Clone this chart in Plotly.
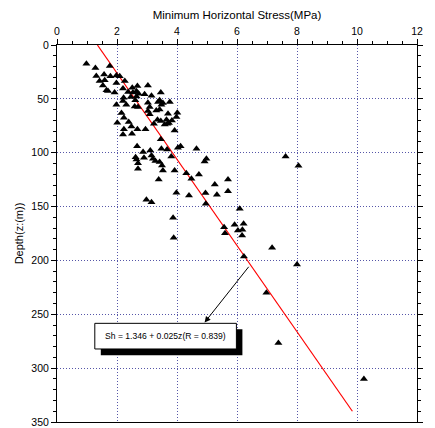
import plotly.graph_objects as go

# Measured points: minimum horizontal stress (MPa) and depth (m)
stress = [0.98, 1.28, 1.76, 1.31, 1.57, 1.78, 1.98, 2.09, 1.42, 1.59,
          1.98, 2.26, 1.53, 1.65, 1.70, 1.92, 2.20, 2.37, 2.51, 2.68,
          3.03, 2.53, 2.65, 2.72, 2.92, 3.15, 3.46, 2.46, 2.65, 2.61,
          2.22, 1.98, 2.20, 2.31, 2.59, 2.70, 3.03, 3.09, 3.37, 3.42,
          3.53, 3.48, 3.76, 3.42, 3.31, 3.03, 2.15, 3.70, 4.01, 2.23,
          2.01, 3.35, 3.46, 3.65, 3.83, 3.98, 3.68, 3.73, 2.39, 2.48,
          2.23, 2.68, 2.95, 3.92, 3.23, 3.59, 3.09, 2.20, 2.50, 3.46,
          2.67, 2.87, 3.11, 3.48, 3.67, 4.03, 4.12, 4.65, 2.62, 2.65,
          2.90, 3.15, 3.20, 3.28, 3.42, 3.50, 3.53, 2.70, 2.70, 3.81,
          3.92, 3.39, 4.31, 4.48, 4.73, 4.98, 4.92, 5.26, 5.70, 5.70,
          5.33, 4.95, 4.40, 3.98, 2.98, 3.15, 4.96, 6.09, 3.87, 3.89,
          5.57, 5.60, 5.92, 6.22, 6.03, 6.18, 6.17, 6.23, 7.62, 8.05,
          7.17, 8.00, 6.98, 7.38, 10.23]
depth = [17.3, 21.4, 19.5, 28.8, 27.5, 29.1, 28.2, 29.1, 33.5, 32.8,
         35.3, 33.5, 37.5, 42.1, 42.8, 44.2, 40.5, 43.7, 39.6, 38.1,
         37.5, 44.2, 43.0, 45.2, 45.8, 47.0, 44.0, 48.3, 47.7, 51.4,
         48.9, 55.4, 52.0, 55.4, 57.0, 57.6, 53.5, 57.6, 53.0, 51.4,
         53.9, 55.4, 53.0, 59.8, 60.7, 61.3, 63.2, 63.8, 62.8, 67.5,
         72.1, 69.3, 70.6, 69.3, 70.0, 66.9, 73.0, 72.5, 71.6, 75.6,
         78.3, 78.3, 78.3, 79.3, 73.0, 73.7, 64.4, 83.0, 82.3, 87.6,
         93.9, 99.4, 97.9, 96.3, 96.9, 95.4, 93.9, 96.3, 104.1, 106.2,
         104.6, 102.5, 105.6, 107.8, 108.7, 111.8, 116.4, 109.7, 114.9, 103.4,
         116.4, 124.8, 119.0, 124.2, 120.2, 105.6, 108.1, 129.5, 124.8, 135.7,
         139.0, 137.5, 139.7, 137.2, 143.7, 145.9, 147.4, 152.0, 160.4, 179.0,
         169.1, 174.7, 166.9, 166.0, 172.2, 171.6, 176.9, 196.4, 103.4, 112.1,
         188.3, 203.8, 230.1, 276.6, 310.0]

# Regression line Sh = a + b z
fit_a = 1.346
fit_b = 0.025
fit_depth = [0, 340]
fit_stress = [fit_a + fit_b * z for z in fit_depth]

x_ticks = [0, 2, 4, 6, 8, 10, 12]
y_ticks = [0, 50, 100, 150, 200, 250, 300, 350]
label_text = "Sh = 1.346 + 0.025z(R = 0.839)"

FONT = "Liberation Sans, Arial, sans-serif"
GRID = "#5656a8"
DOTS = "1px,2px"

fig = go.Figure()
fig.add_trace(go.Scatter(x=fit_stress, y=fit_depth, mode="lines",
                         line=dict(color="#ff0000", width=1.2),
                         hoverinfo="skip", showlegend=False))
fig.add_trace(go.Scatter(x=stress, y=depth, mode="markers",
                         marker=dict(symbol="triangle-up", size=7, color="black",
                                     line=dict(width=0)),
                         showlegend=False))

# label box with shadow
fig.add_shape(type="rect", xref="x", yref="y", x0=1.46, x1=6.18, y0=264, y1=288,
              fillcolor="black", line=dict(width=0), layer="above")
fig.add_shape(type="rect", xref="x", yref="y", x0=1.26, x1=5.98, y0=258.4, y1=282.2,
              fillcolor="white", line=dict(color="black", width=1), layer="above")
fig.add_annotation(x=3.62, y=270.3, xref="x", yref="y", text=label_text,
                   showarrow=False, font=dict(family=FONT, size=8.6, color="black"))
fig.add_annotation(x=4.92, y=257.6, ax=6.43, ay=204.5, xref="x", yref="y",
                   axref="x", ayref="y", text="", showarrow=True,
                   arrowhead=2, arrowsize=1.2, arrowwidth=1, arrowcolor="black")

fig.update_layout(
    width=435, height=428,
    margin=dict(l=57, r=18, t=45, b=6, autoexpand=False),
    paper_bgcolor="white", plot_bgcolor="white",
    font=dict(family=FONT, size=10.5, color="black"),
    xaxis=dict(side="top", range=[0, 12], tickvals=x_ticks, automargin=False,
               showline=True, linecolor="black", linewidth=1, mirror=True,
               ticks="outside", ticklen=5, tickcolor="black",
               minor=dict(dtick=0.5, ticks="outside", ticklen=3, tickcolor="black", showgrid=False),
               showgrid=True, gridcolor=GRID, griddash=DOTS, gridwidth=1,
               zeroline=False,
               title=dict(text="Minimum Horizontal Stress(MPa)", standoff=2,
                          font=dict(family=FONT, size=11.5))),
    yaxis=dict(range=[350, 0], tickvals=y_ticks, automargin=False,
               showline=True, linecolor="black", linewidth=1, mirror="allticks",
               ticks="outside", ticklen=5, tickcolor="black",
               minor=dict(dtick=10, ticks="outside", ticklen=3, tickcolor="black", showgrid=False),
               showgrid=True, gridcolor=GRID, griddash=DOTS, gridwidth=1,
               zeroline=False,
               title=dict(text="Depth(z:(m))", standoff=5,
                          font=dict(family=FONT, size=11))),
)

fig.write_html("out.html")
